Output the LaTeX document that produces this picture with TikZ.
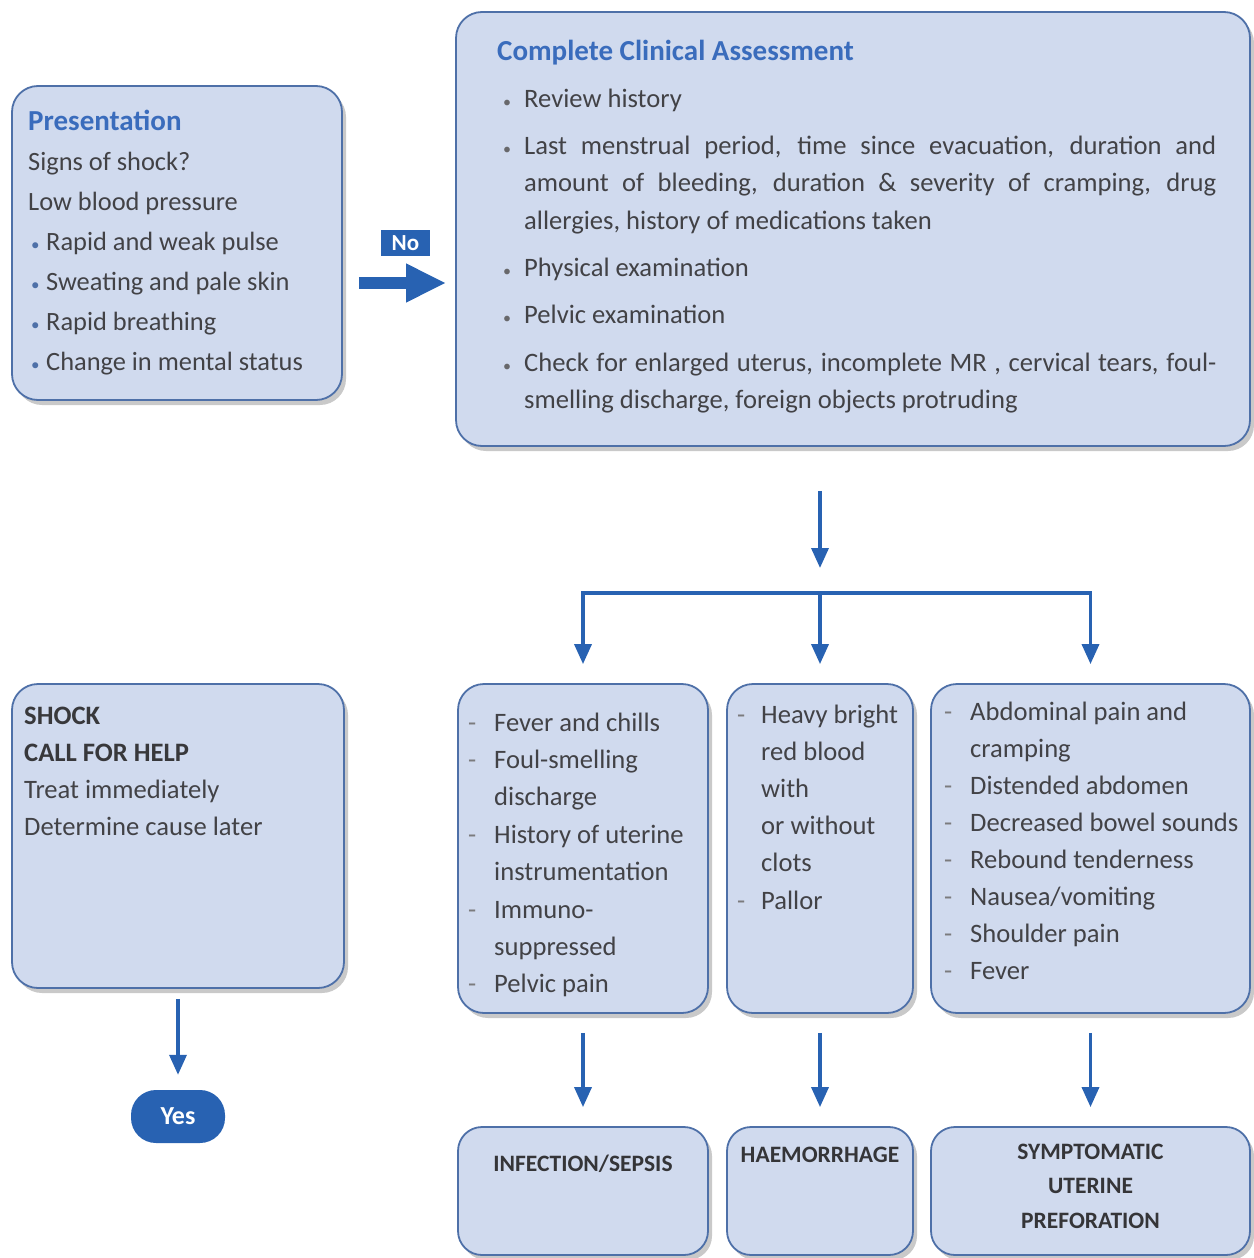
\documentclass[tikz,border=0pt]{standalone}
\usepackage{fontspec}
\setmainfont{Carlito}
\usetikzlibrary{arrows.meta,shadows}
\definecolor{boxfill}{RGB}{208,218,238}
\definecolor{boxline}{RGB}{78,112,168}
\definecolor{ttl}{RGB}{58,108,188}
\definecolor{txt}{RGB}{66,66,70}
\definecolor{arr}{RGB}{40,98,178}
\newcommand\pbul{\makebox[18pt][l]{\hspace{3pt}\textcolor{boxline}{\fontsize{17}{17}\selectfont •}}}
\newcommand\cbul{\leavevmode\llap{\textcolor{txt!80}{\fontsize{16}{16}\selectfont •}\hspace{13pt}}}
\newcommand\dsh{\leavevmode\llap{\makebox[26pt][l]{\textcolor{txt!70}{-}}}}
\newcommand\bdsh{\leavevmode\llap{\makebox[24pt][l]{\textcolor{txt!70}{-}}}}
\newcommand\bodysize{\fontsize{26.6}{37.3}\selectfont}
\tikzset{
  box/.style={draw=boxline, line width=1.8pt, fill=boxfill, rounded corners=26pt, inner sep=0pt,
    drop shadow={shadow xshift=4pt, shadow yshift=-5pt, opacity=0.3, fill=black!70}},
  tx/.style={anchor=base west, inner sep=0pt, text=txt},
  lbl/.style={anchor=base, inner sep=0pt, text=txt!80!black, font=\bfseries\fontsize{23.5}{34.5}\selectfont},
  flow/.style={draw=arr, line width=3.5pt, -{Triangle[length=20pt,width=17pt]}},
}
\begin{document}
\begin{tikzpicture}[x=1pt,y=-1pt]
\useasboundingbox (0,0) rectangle (1253,1258);
% boxes
\node[box, minimum width=330pt, minimum height=314pt] (pres) at (177,243) {};
\node[box, minimum width=794pt, minimum height=434pt] (clin) at (853,229) {};
\node[box, minimum width=332pt, minimum height=304pt] (shock) at (178,836) {};
\node[box, minimum width=250pt, minimum height=329pt] (A) at (583,848.5) {};
\node[box, minimum width=186pt, minimum height=329pt] (B) at (820,848.5) {};
\node[box, minimum width=319pt, minimum height=329pt] (C) at (1090.5,848.5) {};
\node[box, minimum width=250pt, minimum height=128pt, rounded corners=24pt] (A2) at (583,1191) {};
\node[box, minimum width=186pt, minimum height=128pt, rounded corners=24pt] (B2) at (820,1191) {};
\node[box, minimum width=319pt, minimum height=128pt, rounded corners=24pt] (C2) at (1090.5,1191) {};
\node[fill=arr, text=white, font=\bfseries\fontsize{23}{23}\selectfont, minimum width=49pt, minimum height=26pt, inner sep=0pt] (nolab) at (405.5,243) {No};
\node[fill=arr, text=white, font=\bfseries\fontsize{26}{26}\selectfont, minimum width=94pt, minimum height=53pt, inner sep=0pt, rounded corners=25pt] (yes) at (178,1116.5) {Yes};
% texts
\node[tx] (presT) at (28,130) {\parbox[t]{310pt}{\raggedright\fontsize{26.4}{40}\selectfont
  \textcolor{ttl}{\fontsize{29}{40}\selectfont\textbf{Presentation}}\\
  Signs of shock?\\
  Low blood pressure\\
  \pbul Rapid and weak pulse\\
  \pbul Sweating and pale skin\\
  \pbul Rapid breathing\\
  \pbul Change in mental status}};
\node[tx] (clinT) at (524,60) {\parbox[t]{692pt}{\bodysize\parskip=10pt\hyphenpenalty=10000
  \hspace*{-27pt}\textcolor{ttl}{\fontsize{29}{37}\selectfont\textbf{Complete Clinical Assessment}}\par
  \cbul Review history\par
  \cbul Last menstrual period, time since evacuation, duration and\linebreak[4]
  amount of bleeding, duration \& severity of cramping, drug\linebreak[4]
  allergies, history of medications taken\par
  \cbul Physical examination\par
  \cbul Pelvic examination\par
  \cbul Check for enlarged uterus, incomplete MR , cervical tears, foul-\linebreak[4]
  smelling discharge, foreign objects protruding}};
\node[tx] (shockT) at (24,724) {\parbox[t]{310pt}{\raggedright\fontsize{26.6}{37}\selectfont
  \textcolor{txt!85!black}{\textbf{SHOCK}}\\
  \textcolor{txt!85!black}{\textbf{CALL FOR HELP}}\\
  Treat immediately\\
  Determine cause later}};
\node[tx] (AT) at (494,731) {\parbox[t]{210pt}{\raggedright\fontsize{26.6}{37.4}\selectfont
  \dsh Fever and chills\\
  \dsh Foul-smelling\\
  discharge\\
  \dsh History of uterine\\
  instrumentation\\
  \dsh Immuno-\\
  suppressed\\
  \dsh Pelvic pain}};
\node[tx] (BT) at (761,723) {\parbox[t]{150pt}{\raggedright\fontsize{26.6}{37.2}\selectfont
  \bdsh Heavy bright\\
  red blood\\
  with\\
  or without\\
  clots\\
  \bdsh Pallor}};
\node[tx] (CT) at (970,720) {\parbox[t]{280pt}{\raggedright\fontsize{26.6}{37.1}\selectfont
  \dsh Abdominal pain and\\
  cramping\\
  \dsh Distended abdomen\\
  \dsh Decreased bowel sounds\\
  \dsh Rebound tenderness\\
  \dsh Nausea/vomiting\\
  \dsh Shoulder pain\\
  \dsh Fever}};
\node[lbl] (A2T) at (583,1171) {INFECTION/SEPSIS};
\node[lbl] (B2T) at (820,1162) {HAEMORRHAGE};
\node[lbl] (C2T) at (1090.5,1159) {\parbox[t]{300pt}{\centering SYMPTOMATIC\\ UTERINE\\ PREFORATION}};
% connectors
\coordinate (nolevel) at (0,283);
\coordinate (split) at (820,568);
\coordinate (bar) at (820,593);
\draw[draw=arr, line width=12pt, -{Triangle[length=40pt,width=36pt]}, shorten <=16pt, shorten >=9pt]
  (pres.east |- nolevel) -- (clin.west |- nolevel);
\draw[flow, shorten <=44pt] (clin.south -| B.north) -- (split);
\draw[flow, shorten >=19pt] (bar) -| (A.north);
\draw[flow, shorten >=19pt] (bar) -| (C.north);
\draw[flow, shorten >=19pt] (bar) -- (B.north);
\draw[flow, shorten <=19pt, shorten >=19pt] (A.south) -- (A2.north);
\draw[flow, shorten <=19pt, shorten >=19pt] (B.south) -- (B2.north);
\draw[flow, shorten <=19pt, shorten >=19pt] (C.south) -- (C2.north);
\draw[flow, shorten <=10pt, shorten >=15pt] (shock.south) -- (yes.north);
\end{tikzpicture}
\end{document}
